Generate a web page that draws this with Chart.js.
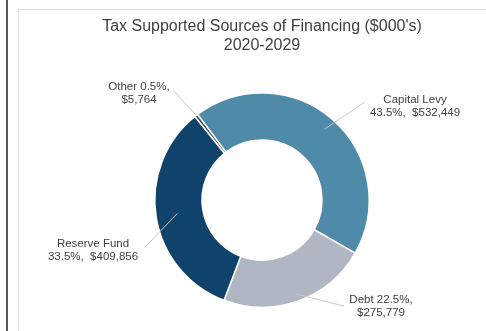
<!DOCTYPE html>
<html>
<head>
<meta charset="utf-8">
<script src="https://cdn.jsdelivr.net/npm/chart.js@4.4.1/dist/chart.umd.min.js"></script>
<style>
  html, body { margin: 0; padding: 0; background: #fff; }
  #wrap { position: relative; width: 486px; height: 331px; overflow: hidden; }
  #darkline { position: absolute; left: 6px; top: 0; width: 2px; height: 331px; background: #555; }
  #frame { position: absolute; left: 18px; top: 9px; width: 480px; height: 340px; border-top: 1px solid #d9d9d9; border-left: 1px solid #e3e3e3; }
  canvas { position: absolute; left: 0; top: 0; }
</style>
</head>
<body>
<div id="wrap">
  <div id="darkline"></div>
  <div id="frame"></div>
  <canvas id="c" width="486" height="331"></canvas>
</div>
<script>
const categories = ["Capital Levy", "Debt", "Reserve Fund", "Other"];
const values = [532449, 275779, 409856, 5764];
const colors = ["#4f8aa8", "#b1b6c3", "#0f436b", "#2e3d52"];
const titleLines = ["Tax Supported Sources of Financing ($000's)", "2020-2029"];

// label layout (offsets from donut centre), line-break style, leader depth
const labelLayout = [
  { dx: 153, dy: -94, split: "name", leaderFrom: [103, -98], depth: 0.88 },
  { dx: 119, dy: 106, split: "pct",  leaderFrom: [82, 106],  depth: 0.93 },
  { dx: -169, dy: 50, split: "name", leaderFrom: [-117, 47], depth: 0.80 },
  { dx: -123, dy: -107, split: "pct", leaderFrom: [-88, -109], depth: 1.0 }
];

const total = values.reduce((a, b) => a + b, 0);
function fmtMoney(v) { return "$" + v.toLocaleString("en-US"); }
function labelText(i) {
  const pct = (values[i] / total * 100).toFixed(1) + "%";
  if (labelLayout[i].split === "name") {
    return [categories[i], pct + ",  " + fmtMoney(values[i])];
  }
  return [categories[i] + " " + pct + ",", fmtMoney(values[i])];
}

const labelPlugin = {
  id: "outLabels",
  afterDatasetsDraw(chart) {
    const ctx = chart.ctx;
    const meta = chart.getDatasetMeta(0);
    meta.data.forEach((arc, i) => {
      const p = arc.getProps(["x", "y", "startAngle", "endAngle", "outerRadius", "innerRadius"], true);
      const mid = (p.startAngle + p.endAngle) / 2;
      const L = labelLayout[i];
      const r = p.outerRadius * L.depth;
      const ex = p.x + Math.cos(mid) * r;
      const ey = p.y + Math.sin(mid) * r;
      const sx = p.x + L.leaderFrom[0];
      const sy = p.y + L.leaderFrom[1];
      ctx.save();
      ctx.strokeStyle = "#c9c9c9";
      ctx.lineWidth = 1;
      ctx.beginPath();
      ctx.moveTo(sx, sy);
      ctx.lineTo(ex, ey);
      ctx.stroke();
      ctx.fillStyle = "#404040";
      ctx.font = "11.5px 'Liberation Sans', Arial, sans-serif";
      ctx.textAlign = "center";
      ctx.textBaseline = "middle";
      const lines = labelText(i);
      lines.forEach((t, k) => {
        ctx.fillText(t, p.x + L.dx, p.y + L.dy + k * 13 - 6.5);
      });
      ctx.restore();
    });
  }
};

new Chart(document.getElementById("c"), {
  type: "doughnut",
  data: {
    labels: categories,
    datasets: [{
      data: values,
      backgroundColor: colors,
      borderColor: "#ffffff",
      borderWidth: 1.5,
      hoverOffset: 0
    }]
  },
  options: {
    responsive: false,
    animation: false,
    rotation: -37,
    cutout: "56%",
    layout: { padding: { left: 48, right: 10, top: 0, bottom: 23 } },
    plugins: {
      legend: { display: false },
      tooltip: { enabled: false },
      title: {
        display: true,
        text: titleLines,
        color: "#404040",
        font: { family: "'Liberation Sans', Arial, sans-serif", size: 16, weight: "normal", lineHeight: 1.13 },
        padding: { top: 18, bottom: 38 }
      }
    }
  },
  plugins: [labelPlugin]
});
</script>
</body>
</html>
